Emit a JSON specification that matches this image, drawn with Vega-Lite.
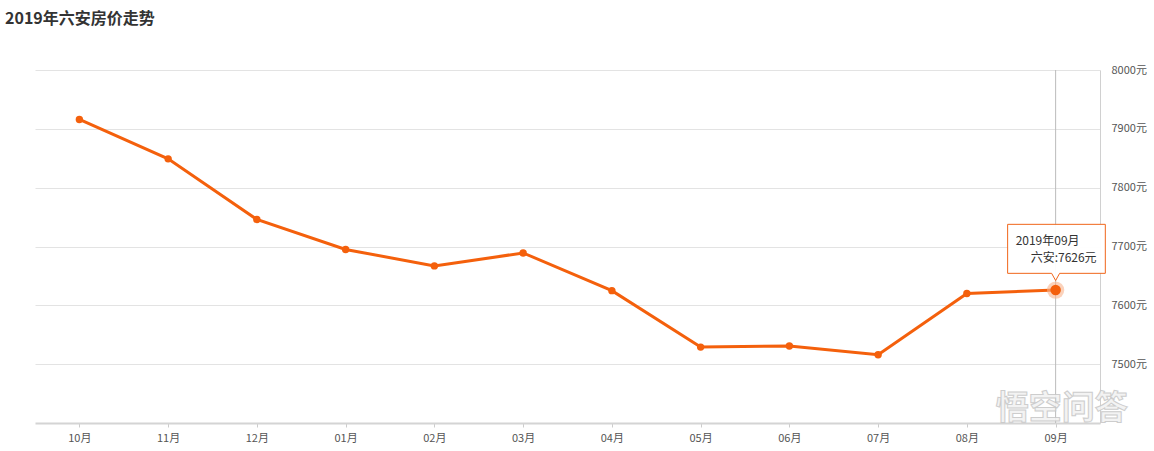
{
  "$schema": "https://vega.github.io/schema/vega-lite/v6.json",
  "autosize": "none",
  "width": 1065,
  "height": 353,
  "padding": {"left": 35, "top": 70, "right": 54, "bottom": 28},
  "background": "white",
  "title": {
    "text": "2019年六安房价走势",
    "anchor": "start",
    "frame": "group",
    "dx": -30,
    "offset": 24,
    "baseline": "alphabetic",
    "font": "Noto Sans CJK SC",
    "fontSize": 16,
    "fontWeight": "bold",
    "color": "#333333"
  },
  "config": {
    "font": "Noto Sans CJK SC",
    "view": {"stroke": null},
    "axis": {"labelFont": "Noto Sans CJK SC", "labelFontSize": 11, "labelColor": "#555555", "title": null}
  },
  "datasets": {
    "prices": [
      {"month": "10月", "price": 7916},
      {"month": "11月", "price": 7849},
      {"month": "12月", "price": 7746},
      {"month": "01月", "price": 7695},
      {"month": "02月", "price": 7667},
      {"month": "03月", "price": 7689},
      {"month": "04月", "price": 7625},
      {"month": "05月", "price": 7529},
      {"month": "06月", "price": 7531},
      {"month": "07月", "price": 7516},
      {"month": "08月", "price": 7620},
      {"month": "09月", "price": 7626}
    ],
    "tip": [
      {"month": "09月", "price": 7626, "line1": "2019年09月", "line2": "六安:7626元", "mark": "悟空问答"}
    ]
  },
  "encoding": {
    "x": {
      "field": "month",
      "type": "ordinal",
      "sort": null,
      "scale": {"type": "point", "padding": 0.5, "domain": ["10月", "11月", "12月", "01月", "02月", "03月", "04月", "05月", "06月", "07月", "08月", "09月"]},
      "axis": {
        "labelAngle": 0,
        "domainColor": "#d4d4d4",
        "domainWidth": 2,
        "tickColor": "#cccccc",
        "tickSize": 4,
        "labelPadding": 5,
        "grid": false
      }
    },
    "y": {
      "field": "price",
      "type": "quantitative",
      "scale": {"domain": [7400, 8000], "nice": false, "zero": false},
      "axis": {
        "orient": "right",
        "values": [7500, 7600, 7700, 7800, 7900, 8000],
        "labelExpr": "datum.value + '元'",
        "grid": true,
        "gridColor": "#e3e3e3",
        "ticks": false,
        "domain": true,
        "domainColor": "#d0d0d0",
        "labelPadding": 11
      }
    }
  },
  "layer": [
    {
      "data": {"name": "tip"},
      "mark": {"type": "rule", "color": "#bbbbbb", "strokeWidth": 1},
      "encoding": {"y": null}
    },
    {
      "data": {"name": "prices"},
      "mark": {"type": "line", "color": "#f4600c", "strokeWidth": 3}
    },
    {
      "data": {"name": "prices"},
      "mark": {"type": "point", "filled": true, "color": "#f4600c", "size": 55, "opacity": 1}
    },
    {
      "data": {"name": "tip"},
      "mark": {"type": "point", "filled": true, "color": "#f8b48e", "size": 300, "opacity": 0.6}
    },
    {
      "data": {"name": "tip"},
      "mark": {"type": "point", "filled": true, "color": "#f4600c", "size": 110, "opacity": 1}
    },
    {
      "data": {"name": "tip"},
      "mark": {
        "type": "point",
        "filled": true,
        "fill": "#ffffff",
        "fillOpacity": 0.95,
        "stroke": "#f0651a",
        "strokeWidth": 1,
        "strokeOpacity": 1,
        "size": 10000,
        "shape": "M-0.96,-1.314L0.994,-1.314L0.994,-0.334L0.08,-0.334L0,-0.19L-0.08,-0.334L-0.96,-0.334Z"
      }
    },
    {
      "data": {"name": "tip"},
      "mark": {"type": "text", "align": "left", "baseline": "alphabetic", "dx": -40, "dy": -45, "fontSize": 12, "color": "#333333"},
      "encoding": {"text": {"field": "line1"}}
    },
    {
      "data": {"name": "tip"},
      "mark": {"type": "text", "align": "right", "baseline": "alphabetic", "dx": 41, "dy": -28, "fontSize": 12, "color": "#333333"},
      "encoding": {"text": {"field": "line2"}}
    },
    {
      "data": {"name": "tip"},
      "mark": {"type": "text", "align": "center", "baseline": "alphabetic", "dx": 6, "dy": -4, "fontSize": 33, "fontWeight": "bold", "fill": "#f2f2f2", "stroke": "#c8c8c8", "strokeWidth": 1, "opacity": 0.9},
      "encoding": {"text": {"field": "mark"}, "y": {"datum": 7400}}
    }
  ]
}
